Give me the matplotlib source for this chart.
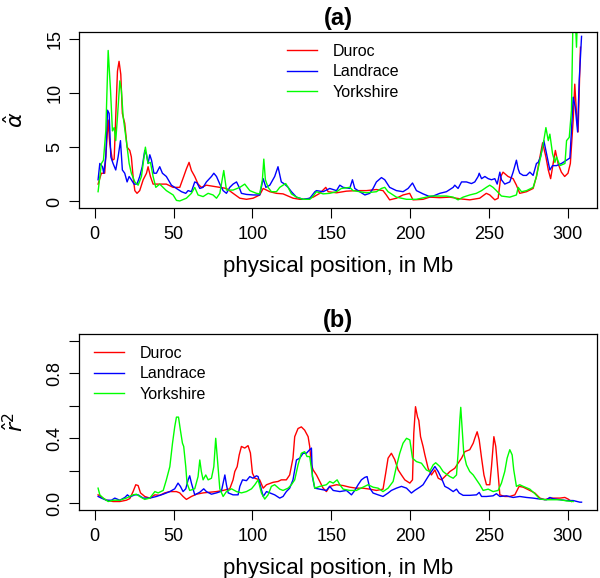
import matplotlib
matplotlib.use('Agg')
import matplotlib.pyplot as plt

plt.rcParams['font.family'] = ['Liberation Sans', 'DejaVu Sans']

breeds = ['Duroc', 'Landrace', 'Yorkshire']
colours = ['#ff0000', '#0000ff', '#00ff00']

# ---- panel (a): alpha-hat along the chromosome (Mb)
duroc_a_x = [2.1, 4.2, 6.3, 8.5, 9.5, 11.2, 12.3, 13.3, 14.4, 15.4, 16.5, 17.5, 19, 20.5, 22.2, 23.2, 24.3,
             25.4, 26.8, 28.5, 30.7, 32.8, 33.8, 35.3, 37, 41.2, 45.4, 49.7, 53.9, 56.4, 58.1, 59.8, 61.3,
             63.4, 65.5, 67.6, 70.8, 75, 79.3, 83.5, 87.7, 92, 96.2, 100.4, 104.6, 106.8, 111, 115.2, 119.4,
             122.6, 125.8, 130, 134.3, 138.5, 142.7, 146.5, 148, 153.3, 159.6, 165.9, 172.3, 178.6, 182.8,
             184.9, 187, 191.3, 195.5, 199.7, 201.8, 208.2, 212.4, 218.8, 225.1, 231.4, 237.8, 244.1, 248.3,
             250.5, 253.7, 255.8, 257.5, 258.9, 262.1, 265.3, 267.4, 269.5, 273.8, 278, 280.1, 282.3, 284,
             286.1, 287.6, 289.1, 290.7, 292.1, 293.8, 295.9, 298, 300.1, 301.6, 303.4, 304.4, 305.5, 306.5, 308]
duroc_a_y = [1.6, 2.6, 2.6, 7.5, 5.3, 3.8, 3.9, 7.8, 12.0, 12.9, 11.7, 8.1, 7.2, 5.0, 4.7, 4.1, 2.3,
             1.0, 0.75, 1.0, 2.0, 2.6, 3.2, 2.3, 1.6, 1.6, 1.6, 1.3, 1.3, 2.3, 3.0, 3.6, 2.85,
             2.3, 1.6, 1.3, 1.5, 1.4, 1.3, 1.2, 0.75, 0.3, 0.2, 0.3, 0.6, 1.2, 0.9, 0.75, 0.7,
             0.5, 0.3, 0.2, 0.2, 0.4, 0.75, 1.3, 0.9, 0.8, 0.95, 1.0, 1.0, 1.1, 1.0,
             0.6, 0.15, 0.3, 0.6, 0.75, 0.15, 0.2, 0.4, 0.35, 0.4, 0.25, 0.15, 0.3, 0.75,
             0.6, 0.15, 0.3, 2.3, 2.7, 2.3, 2.1, 1.5, 0.75, 0.9, 1.2, 2.3, 4.1, 5.4,
             4.1, 2.9, 2.1, 3.5, 4.7, 3.5, 2.7, 2.3, 2.6, 3.5, 7.5, 10.8, 8.1, 6.4, 14.2]

landrace_a_x = [2.1, 3.2, 4.9, 5.7, 7, 8.1, 9.1, 10.2, 11.6, 13.3, 14.8, 16.3, 17.5, 19, 20.5, 21.8, 23.2,
                24.9, 26.8, 28.5, 30.1, 31.7, 32.8, 33.8, 34.9, 36, 37.5, 39.1, 41.2, 42.9, 45.4, 48.6, 51.8,
                55, 57.7, 59.2, 61.3, 63.4, 64.9, 66.6, 68.7, 70.8, 74, 75.5, 77.2, 79.3, 81.4, 83.5, 85.6,
                87.7, 89.9, 91.6, 93, 96.2, 100.4, 104.6, 106.8, 108.5, 111, 114.1, 116.2, 118.3, 120.4,
                122.6, 124.7, 127.9, 132.1, 136.4, 139.6, 140.6, 144.8, 149, 153.3, 155.4, 157.5, 161.7,
                163.4, 164.9, 168, 171.3, 174.4, 176.5, 178.6, 181.8, 183.9, 187, 191.3, 195.5, 198.7,
                201.5, 204, 208.2, 212.4, 214.6, 218.8, 223, 227.3, 228.3, 230.4, 232.6, 235.7, 238.9,
                241, 243.1, 243.8, 245.3, 247.4, 249.5, 251.6, 253.7, 255.2, 256.9, 257.9, 260, 263.2,
                265.3, 267.4, 268.5, 269.5, 271.7, 273.8, 275.9, 278, 280.1, 281.2, 282.7, 284.8, 286.5,
                288.6, 290.3, 292.8, 296, 299.2, 301.3, 302.3, 303.4, 304.7, 306.2, 307.2, 308.7]
landrace_a_y = [2.0, 3.5, 3.2, 2.6, 4.1, 8.4, 8.1, 4.1, 3.5, 2.9, 4.1, 5.6, 2.9, 2.6, 1.8, 2.3, 2.0,
                1.6, 1.6, 2.3, 3.2, 4.7, 4.3, 3.5, 4.3, 3.8, 2.6, 2.6, 3.2, 2.6, 2.3, 1.5, 1.2,
                0.9, 0.75, 1.0, 0.9, 1.8, 1.7, 1.2, 1.3, 1.8, 2.3, 2.6, 2.3, 1.6, 1.0, 0.75, 1.3,
                1.6, 1.8, 1.3, 0.75, 0.65, 0.6, 0.6, 2.1, 1.3, 1.5, 2.3, 3.2, 1.8, 1.6,
                1.3, 0.9, 0.4, 0.2, 0.3, 0.9, 1.0, 0.9, 1.2, 1.0, 1.5, 1.3, 1.2,
                2.0, 1.2, 0.9, 0.6, 0.75, 1.2, 1.8, 2.2, 2.0, 1.3, 1.0, 0.9, 1.2,
                1.7, 1.0, 0.7, 0.45, 0.5, 0.75, 0.9, 1.3, 1.5, 1.2, 1.8, 1.8, 1.65,
                1.8, 2.3, 2.6, 2.1, 2.3, 2.1, 2.0, 2.1, 1.6, 2.7, 2.0, 1.6, 1.8,
                2.7, 3.8, 3.0, 2.6, 2.4, 2.4, 2.7, 2.4, 3.5, 3.6, 4.1, 5.6, 4.4,
                2.9, 3.3, 3.3, 3.5, 3.8, 4.0, 6.5, 9.6, 8.7, 6.4, 11.1, 15.2]

yorkshire_a_x = [2.1, 4.2, 5.5, 7, 8.5, 10, 11.2, 12.3, 13.3, 14.4, 15.9, 16.9, 18, 20, 21.8, 23.2, 25.4,
                 27.5, 29.6, 30.7, 32.1, 33.8, 35.3, 37, 38.7, 41.2, 43.3, 45.4, 49.7, 51.8, 53.9, 58.1, 61.3,
                 63.4, 65.5, 68.7, 71.9, 75, 77.2, 79.3, 81.8, 83.5, 87.7, 92, 95.1, 98.3, 102.5, 104.6,
                 106.3, 107.2, 108.2, 109.9, 112, 115.2, 117.3, 119.4, 121.1, 122.6, 124.7, 127.9, 132.1,
                 136.4, 138.5, 140.6, 144.8, 149, 153.3, 156.4, 161.7, 163.8, 168, 172.3, 178.6, 181.8,
                 183.9, 186, 191.3, 197.7, 204, 210.3, 212.4, 218.8, 223, 227.3, 230.4, 233.6, 237.8, 242,
                 245.3, 248.3, 250.5, 252.6, 254.7, 257.9, 263.2, 267.4, 268.5, 270.6, 273.8, 278, 280.1,
                 282.3, 284.4, 286.1, 287.6, 288.6, 290.3, 291.8, 292.8, 295, 298.2, 299.2, 300.9, 302.3,
                 303.4, 304.4, 305.5, 306.3]
yorkshire_a_y = [0.9, 3.5, 3.8, 6.5, 13.9, 10.2, 6.5, 6.8, 5.6, 7.8, 11.1, 10.2, 7.8, 5.6, 3.5, 2.6, 1.8,
                 1.5, 2.3, 3.5, 5.0, 3.5, 3.6, 2.3, 1.3, 1.6, 1.3, 1.0, 0.6, 0.1, 0.05, 0.3, 0.75,
                 1.3, 0.6, 0.45, 0.75, 0.6, 0.3, 0.75, 2.85, 1.05, 1.05, 1.3, 1.6, 1.0, 0.75, 0.7,
                 2.0, 3.9, 2.0, 1.3, 0.9, 0.9, 1.3, 1.5, 1.65, 1.3, 0.7, 0.4, 0.2,
                 0.2, 0.5, 0.9, 0.7, 0.75, 0.9, 1.2, 1.3, 1.0, 0.9, 0.8, 0.9, 1.2,
                 1.3, 0.9, 0.4, 0.2, 0.2, 0.4, 0.5, 0.5, 0.5, 0.4, 0.15, 0.4, 0.6, 0.75,
                 1.0, 1.3, 1.5, 1.3, 1.0, 0.5, 0.4, 0.6, 1.3, 0.9, 1.0, 1.3, 2.3,
                 3.8, 5.3, 6.8, 5.6, 6.2, 4.4, 3.6, 4.1, 3.3, 3.5, 5.6, 5.9, 8.4,
                 18.0, 18.0, 14.2, 18.0]

# ---- panel (b): r^2-hat along the chromosome (Mb)
duroc_b_x = [2.1, 5.3, 7.4, 11.6, 15.9, 20, 22.2, 24.3, 26, 27.5, 29, 31.7, 34.9, 38.1, 41.2, 44.4, 47.6,
             51.8, 53.9, 56, 58.1, 61.3, 64.5, 68.7, 72.9, 77.1, 81.4, 85.6, 87.7, 88.8, 90.3, 91.6, 93,
             95.1, 97.2, 98.7, 100, 101.5, 104.6, 106.8, 108.9, 113.1, 116.2, 118.3, 121.5, 123.6, 125.7,
             126.8, 128.9, 131, 133.1, 135.3, 136.3, 137.4, 138.5, 140.6, 142.7, 144.8, 146.9, 149, 153.3,
             157.5, 161.7, 165.9, 170.1, 174.4, 178.6, 182.8, 184.5, 186, 188.1, 190.2, 192.4, 194.5,
             196.6, 199.8, 201.5, 202.3, 203.4, 204.7, 205.5, 206.6, 208.2, 209.3, 211.4, 213.5, 215.7,
             217.8, 219.9, 222, 225.2, 228.3, 230.4, 232.6, 234.7, 237.8, 240, 241, 242.5, 243.8, 245.3,
             246.8, 248.4, 250.5, 251.6, 253.1, 254.3, 255.4, 256.9, 260, 263.2, 266.4, 269.1, 271.7,
             275.9, 279.1, 282.3, 285.4, 288.6, 290.7, 295, 298.1, 300.2, 302.3]
duroc_b_y = [0.053, 0.033, 0.02, 0.012, 0.012, 0.02, 0.03, 0.073, 0.115, 0.11, 0.065, 0.043, 0.033, 0.053,
             0.05, 0.065, 0.073, 0.073, 0.065, 0.043, 0.025, 0.043, 0.057, 0.065, 0.069, 0.073, 0.08, 0.09,
             0.145, 0.196, 0.226, 0.298, 0.35, 0.34, 0.355, 0.31, 0.186, 0.155, 0.145, 0.094, 0.115, 0.13,
             0.135, 0.145, 0.145, 0.175, 0.278, 0.41, 0.46, 0.47, 0.45, 0.41, 0.35, 0.237, 0.206, 0.175,
             0.135, 0.094, 0.073, 0.105, 0.115, 0.11, 0.10, 0.094, 0.094, 0.088, 0.08, 0.088, 0.186, 0.278,
             0.308, 0.27, 0.206, 0.175, 0.145, 0.125, 0.145, 0.43, 0.594, 0.53, 0.51, 0.41, 0.35, 0.3,
             0.216, 0.175, 0.206, 0.155, 0.145, 0.165, 0.196, 0.216, 0.247, 0.278, 0.318, 0.33, 0.37, 0.40,
             0.44, 0.39, 0.278, 0.175, 0.115, 0.115, 0.227, 0.41, 0.35, 0.227, 0.053, 0.043, 0.043, 0.053,
             0.105, 0.1, 0.08, 0.064, 0.033, 0.023, 0.033, 0.033, 0.033, 0.037, 0.027, 0.012]

landrace_b_x = [2.1, 4.2, 7.4, 10.6, 12.7, 15.9, 19.1, 20.7, 22.2, 25.4, 27.5, 30.7, 34.9, 39.1, 43.4, 47.6,
                50.7, 52.8, 54.3, 56, 57.7, 59.2, 60.2, 61.3, 63.4, 66.6, 69.1, 70.8, 74, 77.2, 80.3, 81.4,
                82.5, 83.5, 84.6, 87.7, 90.9, 92, 93.7, 96.2, 98.3, 100.4, 102.5, 103.6, 104.6, 106.8, 108.9,
                111, 114.1, 117.3, 119.4, 121.5, 123.6, 125.7, 127.9, 130, 132.1, 134.2, 136.3, 137.4, 138,
                139.5, 142.7, 146.9, 149, 151.2, 155.4, 159.6, 162.8, 164.9, 167, 169.1, 171.2, 172.7, 174.4,
                176.5, 179.7, 182.8, 186, 188.1, 191.3, 194.5, 197.7, 200.8, 202.9, 206.1, 208.2, 211.4,
                213.5, 215.7, 217.8, 219.9, 222, 224.2, 227.3, 229.4, 231.1, 233.6, 237.8, 242.1, 243.8,
                245.3, 248.4, 252.6, 254.7, 256.9, 261.1, 265.3, 269.5, 273.8, 278, 282.3, 286.5, 288.6,
                290.7, 295, 299.2, 303.4, 307.6, 308.7]
landrace_b_y = [0.043, 0.033, 0.02, 0.02, 0.033, 0.02, 0.037, 0.053, 0.04, 0.053, 0.053, 0.033, 0.033,
                0.043, 0.057, 0.073, 0.09, 0.125, 0.105, 0.073, 0.09, 0.145, 0.17, 0.125, 0.053, 0.069, 0.09,
                0.073, 0.057, 0.065, 0.075, 0.125, 0.175, 0.115, 0.065, 0.053, 0.053, 0.105, 0.145, 0.14,
                0.165, 0.155, 0.17, 0.165, 0.125, 0.043, 0.073, 0.065, 0.053, 0.033, 0.043, 0.073, 0.094,
                0.145, 0.267, 0.278, 0.308, 0.308, 0.33, 0.34, 0.165, 0.094, 0.088, 0.08, 0.105, 0.08, 0.073,
                0.08, 0.053, 0.08, 0.115, 0.145, 0.16, 0.165, 0.094, 0.064, 0.053, 0.043, 0.064, 0.08, 0.094,
                0.105, 0.094, 0.064, 0.08, 0.1, 0.115, 0.165, 0.196, 0.227, 0.196, 0.155, 0.105, 0.094,
                0.073, 0.088, 0.064, 0.05, 0.05, 0.053, 0.068, 0.043, 0.043, 0.047, 0.06, 0.043, 0.047,
                0.037, 0.043, 0.037, 0.033, 0.027, 0.023, 0.037, 0.029, 0.023, 0.018, 0.018, 0.008, 0.008]

yorkshire_b_x = [2.1, 3.2, 5.3, 8.5, 11.6, 15.9, 20, 24.3, 26.4, 28.5, 31.7, 34.9, 38.1, 40.2, 43.4, 45.4,
                 47.6, 49.3, 50.7, 51.8, 53.1, 54.3, 55.6, 56.4, 57.7, 58.5, 60.2, 63.4, 65.5, 66.6, 67.6,
                 68.7, 70.4, 71.9, 74, 75.5, 76.7, 77.8, 79.3, 81.4, 83.5, 86.7, 89.9, 93, 96.2, 99.4, 101.5,
                 103.6, 105.7, 107.8, 109.9, 112, 114.1, 117.3, 119.4, 122.6, 124.7, 126.8, 128.9, 131,
                 133.1, 134.6, 136.3, 138, 139.5, 142.7, 146.9, 149, 151.2, 153.7, 155.4, 157.5, 161.7,
                 165.9, 170.1, 173.3, 176.5, 179.7, 182.8, 186, 189.2, 191.3, 193.4, 195.5, 197.7, 199.8,
                 201.5, 204, 207.2, 210.3, 212.4, 214.6, 216.2, 218.8, 220.9, 223, 225.2, 227.3, 229.4,
                 230.4, 231.5, 232.1, 232.9, 234, 235.7, 237.8, 240, 242.1, 244.2, 246.3, 249.5, 252.6,
                 255.8, 257.9, 260, 261.5, 263.2, 264.7, 265.7, 267.4, 269.5, 271.7, 275.9, 279.1, 282.3,
                 286.5, 290.7, 295, 299.2, 303.4]
yorkshire_b_y = [0.094, 0.053, 0.033, 0.012, 0.02, 0.02, 0.033, 0.053, 0.057, 0.043, 0.025, 0.033, 0.073,
                 0.065, 0.08, 0.145, 0.226, 0.37, 0.47, 0.53, 0.53, 0.45, 0.37, 0.35, 0.226, 0.125, 0.08,
                 0.09, 0.165, 0.267, 0.196, 0.145, 0.175, 0.145, 0.155, 0.226, 0.40, 0.267, 0.09, 0.043,
                 0.073, 0.09, 0.073, 0.065, 0.073, 0.09, 0.115, 0.145, 0.064, 0.027, 0.053, 0.105, 0.115,
                 0.088, 0.08, 0.094, 0.115, 0.145, 0.237, 0.308, 0.318, 0.288, 0.288, 0.175, 0.094, 0.105,
                 0.115, 0.135, 0.125, 0.145, 0.115, 0.088, 0.08, 0.08, 0.1, 0.115, 0.1, 0.094, 0.073, 0.094,
                 0.135, 0.227, 0.308, 0.37, 0.40, 0.39, 0.278, 0.257, 0.247, 0.206, 0.196, 0.237, 0.25,
                 0.227, 0.196, 0.18, 0.165, 0.155, 0.175, 0.308, 0.51, 0.59, 0.47, 0.308, 0.237, 0.196,
                 0.175, 0.145, 0.115, 0.08, 0.088, 0.073, 0.08, 0.125, 0.196, 0.278, 0.33, 0.298, 0.206,
                 0.105, 0.115, 0.105, 0.088, 0.06, 0.027, 0.023, 0.023, 0.023, 0.016, 0.012]

panel_a = [(duroc_a_x, duroc_a_y), (landrace_a_x, landrace_a_y), (yorkshire_a_x, yorkshire_a_y)]
panel_b = [(duroc_b_x, duroc_b_y), (landrace_b_x, landrace_b_y), (yorkshire_b_x, yorkshire_b_y)]
for xs, ys in panel_a + panel_b:
    assert len(xs) == len(ys), (len(xs), len(ys))

W, H = 600, 578
fig = plt.figure(figsize=(W / 100, H / 100), dpi=100)


def px_box(left, top, right, bottom):
    return [left / W, 1 - bottom / H, (right - left) / W, (bottom - top) / H]


ax_a = fig.add_axes(px_box(79, 32, 597, 208))
ax_b = fig.add_axes(px_box(79, 334, 597, 510))


def style(ax, title, ylabel, ylim, yticks, ylabels):
    ax.set_xlim(-10, 318.5)
    ax.set_ylim(*ylim)
    ax.set_xticks(range(0, 301, 50))
    ax.set_yticks(yticks)
    ax.set_yticklabels(ylabels, rotation=90, va='center')
    ax.tick_params(direction='out', length=7.2, width=0.8, pad=6, labelsize=13)
    ax.tick_params(axis='y', pad=4)
    for sp in ax.spines.values():
        sp.set_linewidth(0.9)
    ax.set_title(title, fontsize=17, fontweight='bold', pad=5)
    ax.set_xlabel('physical position, in Mb', fontsize=16, labelpad=9)
    ax.set_ylabel(ylabel, fontsize=16)
    ax.yaxis.set_label_coords(-0.098, 0.5)


for (xs, ys), name, col in zip(panel_a, breeds, colours):
    ax_a.plot(xs, ys, color=col, lw=1.0, label=name)
for (xs, ys), name, col in zip(panel_b, breeds, colours):
    ax_b.plot(xs, ys, color=col, lw=1.0, label=name)

style(ax_a, '(a)', r'$\hat{\alpha}$', (-0.6, 15.6), [0, 5, 10, 15], ['0', '5', '10', '15'])
style(ax_b, '(b)', r'$\hat{r}^2$', (-0.04, 1.04), [0, 0.2, 0.4, 0.6, 0.8, 1.0],
      ['0.0', '', '0.4', '', '0.8', ''])

leg_kw = dict(frameon=False, fontsize=11.5, handlelength=1.9, handletextpad=0.95,
              labelspacing=0.34, borderaxespad=0, borderpad=0)
ax_a.legend(loc='upper left', bbox_to_anchor=((287 - 79) / 518, (208 - 44) / 176), **leg_kw)
ax_b.legend(loc='upper left', bbox_to_anchor=((94 - 79) / 518, (510 - 346) / 176), **leg_kw)

fig.savefig('out.png', dpi=100)
